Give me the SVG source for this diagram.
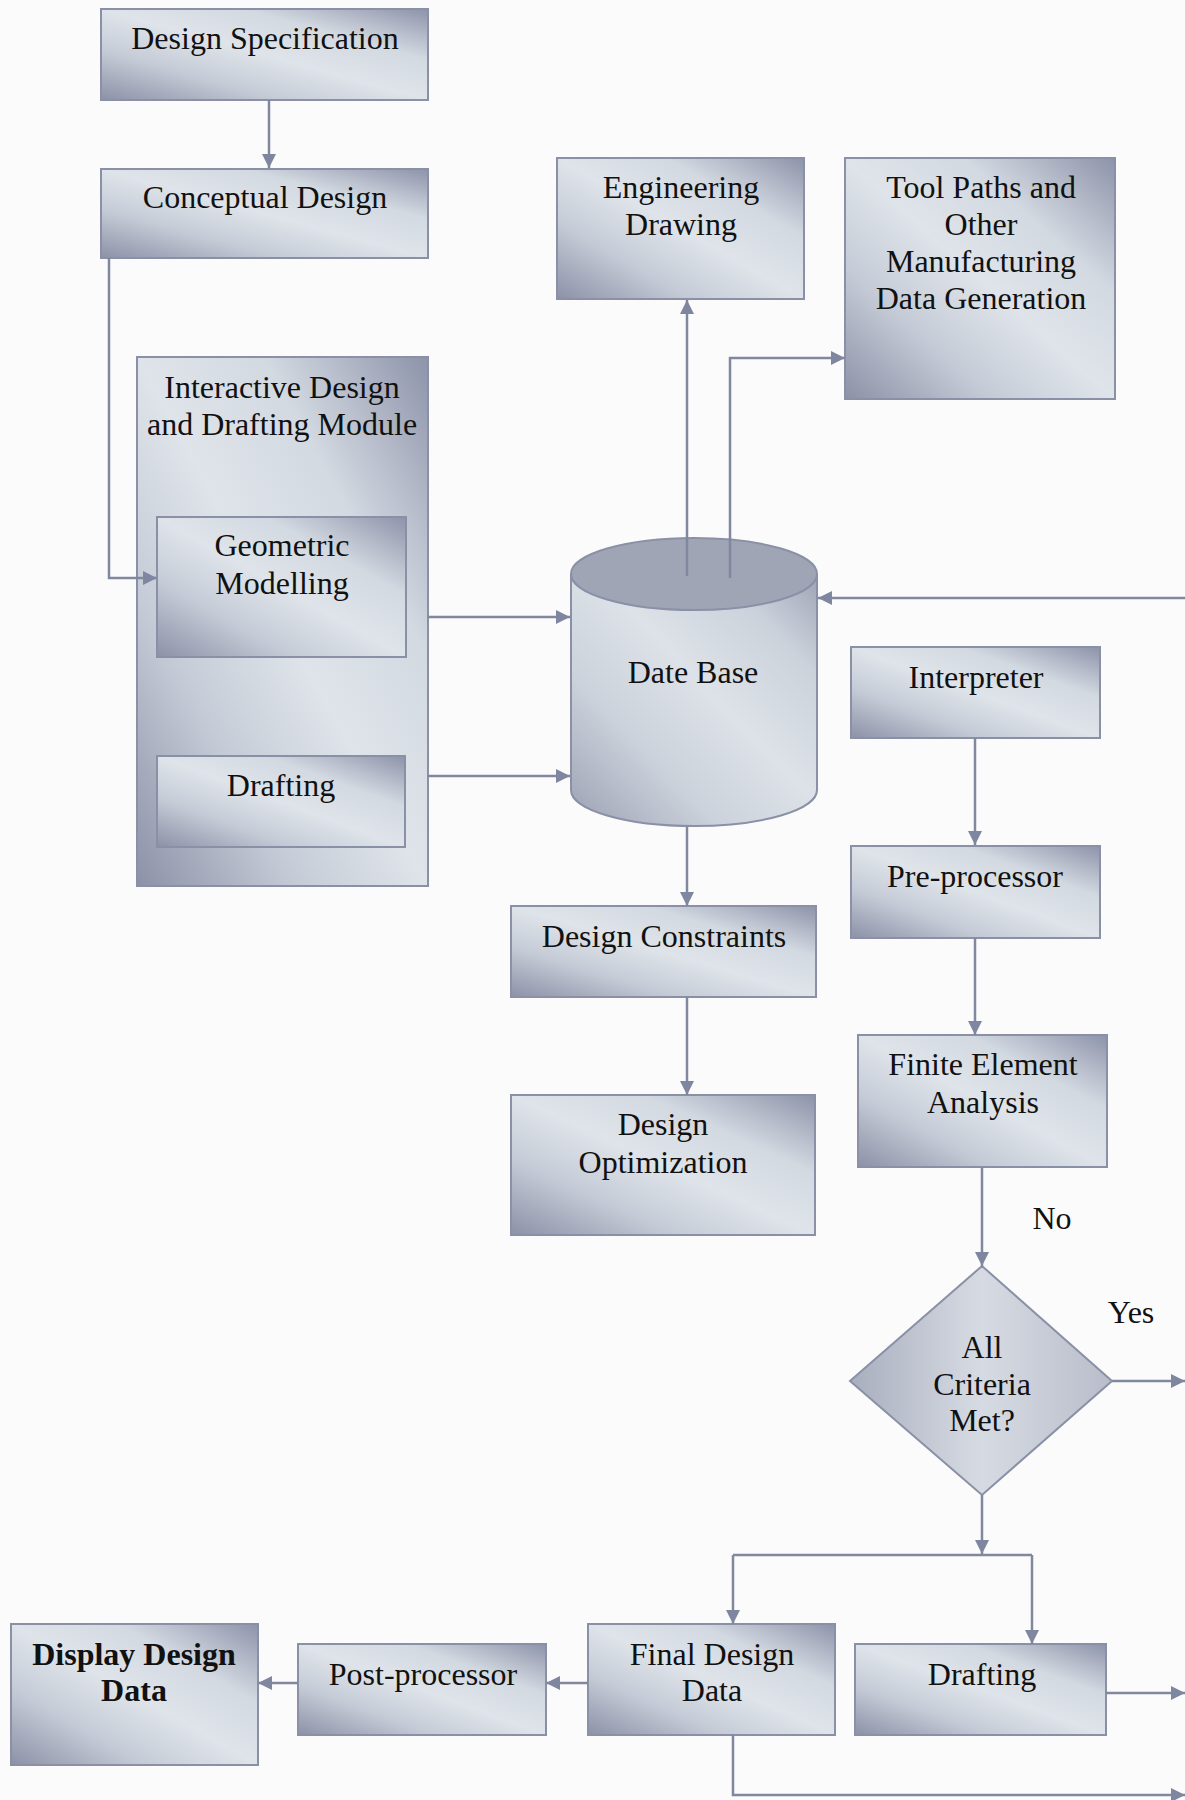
<svg xmlns="http://www.w3.org/2000/svg" width="1185" height="1800" viewBox="0 0 1185 1800">
<defs>
<linearGradient id="box" x1="0" y1="1" x2="1" y2="0">
<stop offset="0" stop-color="#8c91a7"/>
<stop offset="0.28" stop-color="#c6ccd7"/>
<stop offset="0.5" stop-color="#dfe4ea"/>
<stop offset="0.72" stop-color="#d3d9e1"/>
<stop offset="1" stop-color="#8d93a9"/>
</linearGradient>
<linearGradient id="cyl" x1="0" y1="1" x2="1" y2="0">
<stop offset="0" stop-color="#9ba0b3"/>
<stop offset="0.3" stop-color="#ccd2db"/>
<stop offset="0.55" stop-color="#dde2e8"/>
<stop offset="0.8" stop-color="#ccd2db"/>
<stop offset="1" stop-color="#9fa4b6"/>
</linearGradient>
<linearGradient id="dia" x1="0" y1="0.5" x2="1" y2="0.5">
<stop offset="0" stop-color="#a9aebe"/>
<stop offset="0.5" stop-color="#d6dbe3"/>
<stop offset="1" stop-color="#b8bdca"/>
</linearGradient>
<marker id="ah" markerUnits="userSpaceOnUse" markerWidth="14" markerHeight="14" refX="14" refY="7" orient="auto">
<path d="M0,0 L14,7 L0,14 z" fill="#7f86a0"/>
</marker>
<style>
.b{fill:url(#box);stroke:#8a90a6;stroke-width:2}
.t{font-family:"Liberation Serif","Times New Roman",serif;font-size:32px;fill:#111;text-anchor:middle}
.bd{font-weight:bold}
.c{fill:none;stroke:#8088a0;stroke-width:2.5}
.ca{fill:none;stroke:#8088a0;stroke-width:2.5;marker-end:url(#ah)}
</style>
</defs>
<rect width="1185" height="1800" fill="#fbfbfb"/>

<g id="design-specification">
<rect class="b" x="101" y="9" width="327" height="91"/>
<text class="t" x="265" y="49">Design Specification</text>
</g>
<g id="conceptual-design">
<rect class="b" x="101" y="169" width="327" height="89"/>
<text class="t" x="265" y="208">Conceptual Design</text>
</g>
<g id="interactive-module">
<rect class="b" x="137" y="357" width="291" height="529"/>
<text class="t" x="282" y="398">Interactive Design</text>
<text class="t" x="282" y="435">and Drafting Module</text>
</g>
<g id="geometric-modelling">
<rect class="b" x="157" y="517" width="249" height="140"/>
<text class="t" x="282" y="556">Geometric</text>
<text class="t" x="282" y="594">Modelling</text>
</g>
<g id="drafting-module">
<rect class="b" x="157" y="756" width="248" height="91"/>
<text class="t" x="281" y="796">Drafting</text>
</g>
<g id="engineering-drawing">
<rect class="b" x="557" y="158" width="247" height="141"/>
<text class="t" x="681" y="198">Engineering</text>
<text class="t" x="681" y="235">Drawing</text>
</g>
<g id="tool-paths">
<rect class="b" x="845" y="158" width="270" height="241"/>
<text class="t" x="981" y="198">Tool Paths and</text>
<text class="t" x="981" y="235">Other</text>
<text class="t" x="981" y="272">Manufacturing</text>
<text class="t" x="981" y="309">Data Generation</text>
</g>
<g id="data-base">
<path d="M571,574 V790 A123,36 0 0 0 817,790 V574" fill="url(#cyl)" stroke="#8a90a6" stroke-width="2"/>
<ellipse cx="694" cy="574" rx="123" ry="36" fill="#a0a5b6" stroke="#8a90a6" stroke-width="2"/>
<text class="t" x="693" y="683">Date Base</text>
</g>
<g id="interpreter">
<rect class="b" x="851" y="647" width="249" height="91"/>
<text class="t" x="976" y="688">Interpreter</text>
</g>
<g id="pre-processor">
<rect class="b" x="851" y="846" width="249" height="92"/>
<text class="t" x="975" y="887">Pre-processor</text>
</g>
<g id="design-constraints">
<rect class="b" x="511" y="906" width="305" height="91"/>
<text class="t" x="664" y="947">Design Constraints</text>
</g>
<g id="design-optimization">
<rect class="b" x="511" y="1095" width="304" height="140"/>
<text class="t" x="663" y="1135">Design</text>
<text class="t" x="663" y="1173">Optimization</text>
</g>
<g id="finite-element-analysis">
<rect class="b" x="858" y="1035" width="249" height="132"/>
<text class="t" x="983" y="1075">Finite Element</text>
<text class="t" x="983" y="1113">Analysis</text>
</g>
<g id="label-no">
<text class="t" x="1052" y="1229">No</text>
</g>
<g id="label-yes">
<text class="t" x="1131" y="1323">Yes</text>
</g>
<g id="criteria-decision">
<polygon points="982,1266 1112,1381 982,1495 850,1381" fill="url(#dia)" stroke="#8a90a6" stroke-width="2"/>
<text class="t" x="982" y="1358">All</text>
<text class="t" x="982" y="1395">Criteria</text>
<text class="t" x="982" y="1431">Met?</text>
</g>
<g id="display-design-data">
<rect class="b" x="11" y="1624" width="247" height="141"/>
<text class="t bd" x="134" y="1665">Display Design</text>
<text class="t bd" x="134" y="1701">Data</text>
</g>
<g id="post-processor">
<rect class="b" x="298" y="1644" width="248" height="91"/>
<text class="t" x="423" y="1685">Post-processor</text>
</g>
<g id="final-design-data">
<rect class="b" x="588" y="1624" width="247" height="111"/>
<text class="t" x="712" y="1665">Final Design</text>
<text class="t" x="712" y="1701">Data</text>
</g>
<g id="drafting-output">
<rect class="b" x="855" y="1644" width="251" height="91"/>
<text class="t" x="982" y="1685">Drafting</text>
</g>

<g id="connectors">
<path class="ca" d="M269,100 V168"/>
<path class="ca" d="M109,258 V578 H157"/>
<path class="ca" d="M428,617 H570"/>
<path class="ca" d="M428,776 H570"/>
<path class="ca" d="M687,576 V300"/>
<path class="ca" d="M730,578 V358 H845"/>
<path class="ca" d="M1185,598 H818"/>
<path class="ca" d="M687,827 V906"/>
<path class="ca" d="M687,997 V1095"/>
<path class="ca" d="M975,738 V845"/>
<path class="ca" d="M975,938 V1035"/>
<path class="ca" d="M982,1167 V1266"/>
<path class="ca" d="M1112,1381 H1185"/>
<path class="ca" d="M982,1495 V1554"/>
<path class="c" d="M733,1555 H1032"/>
<path class="ca" d="M733,1555 V1624"/>
<path class="ca" d="M1032,1555 V1644"/>
<path class="ca" d="M588,1683 H546"/>
<path class="ca" d="M298,1683 H258"/>
<path class="ca" d="M1106,1693 H1185"/>
<path class="ca" d="M733,1735 V1795 H1185"/>
</g>
</svg>
